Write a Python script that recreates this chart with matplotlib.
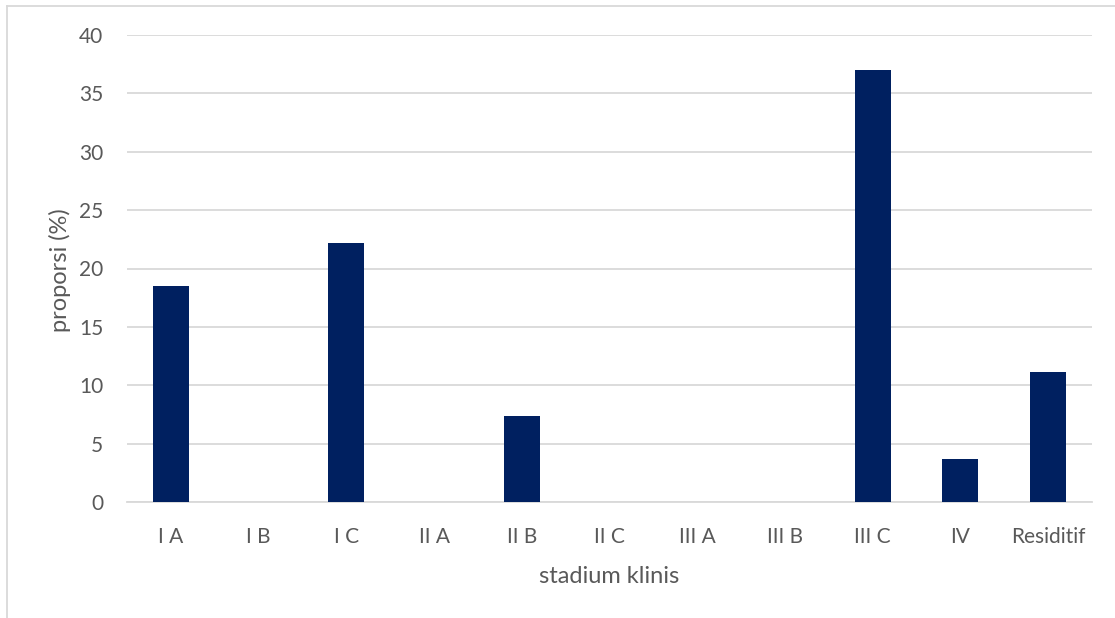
import matplotlib
matplotlib.use("Agg")
import matplotlib.pyplot as plt
from matplotlib.lines import Line2D

categories = ["I A", "I B", "I C", "II A", "II B", "II C", "III A", "III B", "III C", "IV", "Residitif"]
values = [18.5, 0, 22.2, 0, 7.4, 0, 0, 0, 37.0, 3.7, 11.1]
yticks = [0, 5, 10, 15, 20, 25, 30, 35, 40]

plt.rcParams['font.family'] = ['Lato', 'DejaVu Sans']
txt = "#595959"

fig = plt.figure(figsize=(11.15, 6.18), dpi=100)
ax = fig.add_axes([127/1115, 1-502/618, (1092-127)/1115, (502-35)/618])

x = list(range(len(categories)))
ax.bar(x, values, width=0.41, color="#002060", zorder=3)
ax.set_xlim(-0.5, len(categories)-0.5)
ax.set_ylim(0, 40)
ax.set_yticks(yticks)
ax.set_xticks(x)
ax.set_xticklabels(categories)
ax.grid(axis='y', color="#d9d9d9", linewidth=1.3, zorder=0)
for s in ["top", "right", "left"]:
    ax.spines[s].set_visible(False)
ax.spines["bottom"].set_color("#d9d9d9")
ax.spines["bottom"].set_linewidth(1.3)
ax.tick_params(axis='both', length=0, labelsize=15, colors=txt)
ax.tick_params(axis='x', pad=18)
ax.tick_params(axis='y', pad=17)
ax.set_xlabel("stadium klinis", fontsize=17, color=txt, labelpad=14)
ax.set_ylabel("proporsi (%)", fontsize=17, color=txt)
ax.yaxis.set_label_coords((71 - 127) / 965, (502 - 270) / 467)

# outer frame
fig.add_artist(Line2D([6.5/1115, 6.5/1115], [0, 1-5.5/618], transform=fig.transFigure, color="#d9d9d9", lw=1.3))
fig.add_artist(Line2D([6.5/1115, 1], [1-5.5/618, 1-5.5/618], transform=fig.transFigure, color="#d9d9d9", lw=1.3))

fig.savefig("out.png", dpi=100)
